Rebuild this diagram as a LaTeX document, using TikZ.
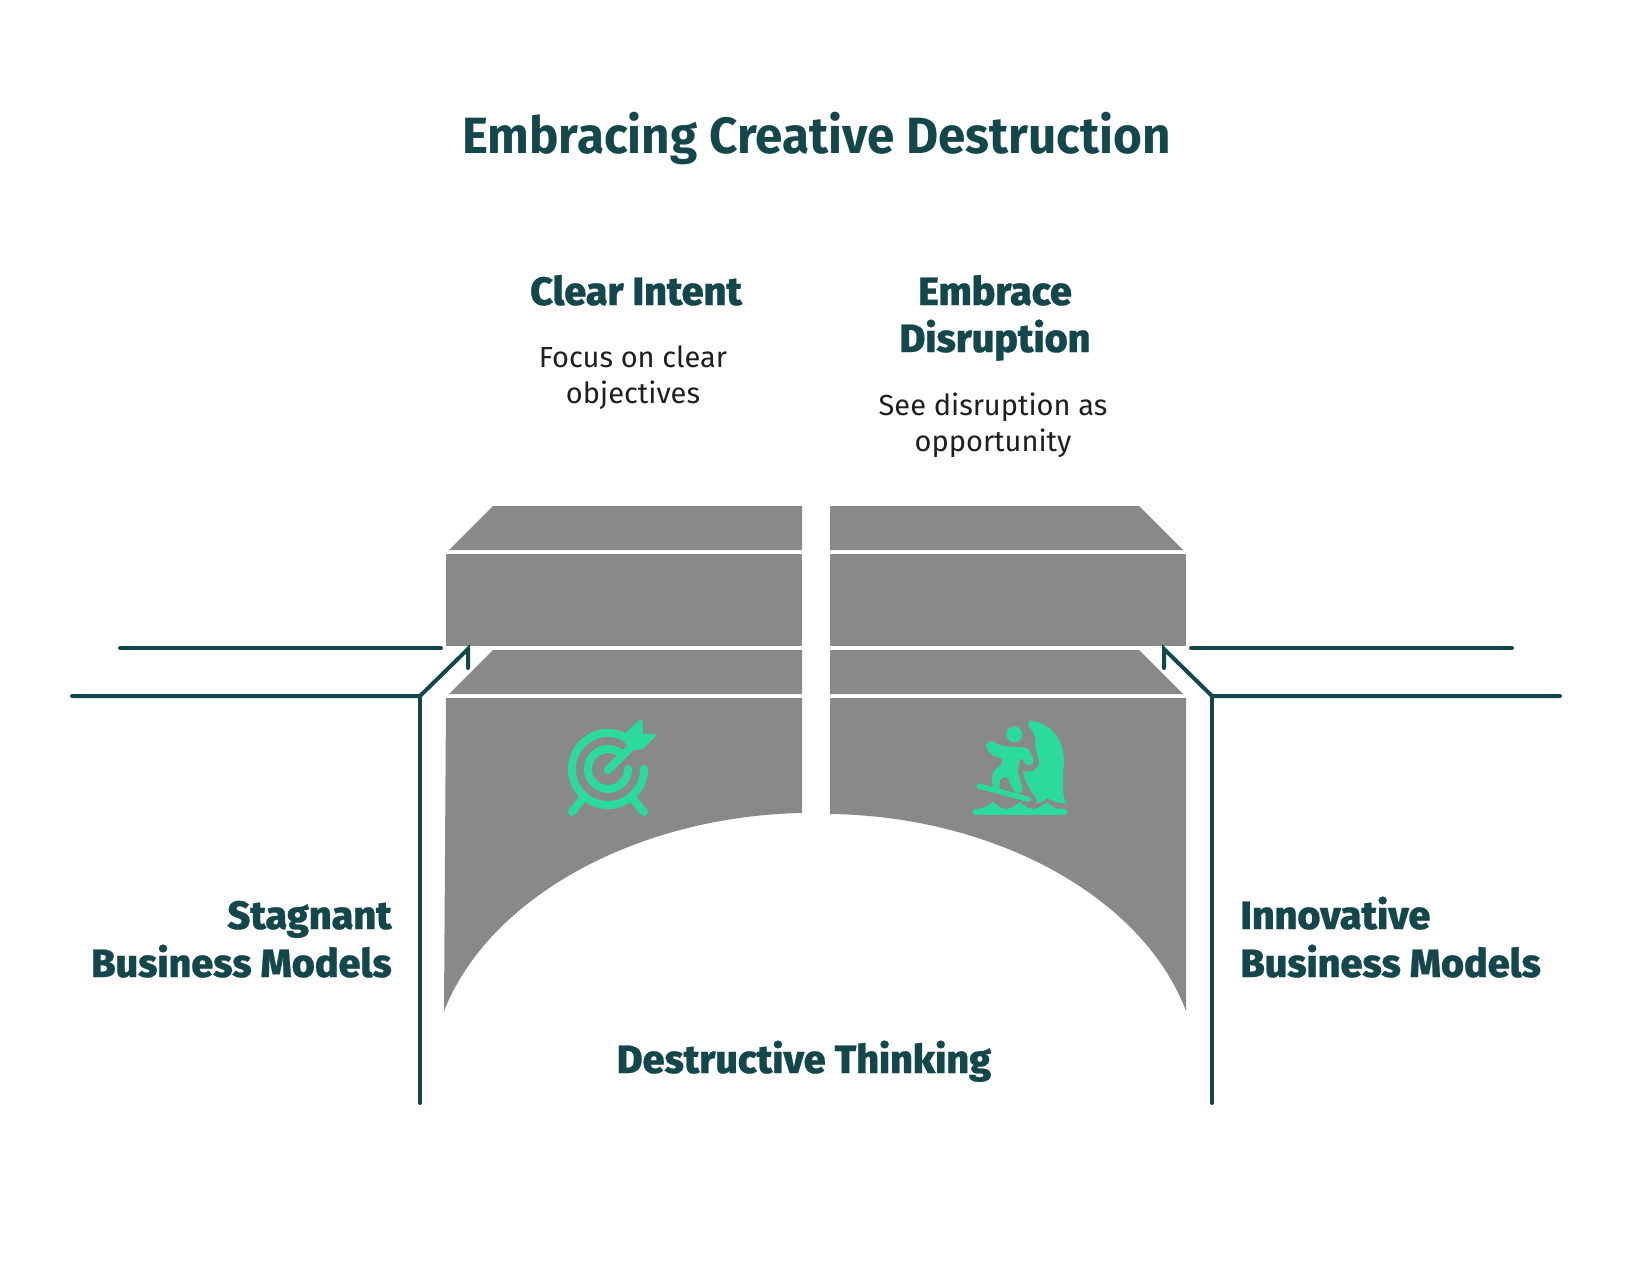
\documentclass[tikz,border=0pt]{standalone}
\usepackage{fontspec}
\setmainfont{Fira Sans}
\newfontfamily\headfont[FakeBold=0.6]{Fira Sans ExtraBold}
\newfontfamily\titlefont[FakeStretch=0.97]{Fira Sans}
\definecolor{teal}{HTML}{14474B}
\definecolor{blockgray}{HTML}{898989}
\definecolor{mint}{HTML}{2BDB9C}
\tikzset{
  x=0.02cm,y=-0.02cm,
  block/.style={fill=blockgray,draw=none},
  rail/.style={draw=teal,line width=0.08cm,line cap=round,line join=miter},
  heading/.style={text=teal,font=\headfont\fontsize{22.5}{27.2}\selectfont,align=center,inner sep=0,anchor=base},
  body/.style={text=black!88,font=\fontsize{16.5}{20.4}\selectfont,align=center,inner sep=0,anchor=base},
  iconline/.style={draw=mint,line width=0.16cm,line cap=round,line join=round,fill=none},
  iconfill/.style={fill=mint,draw=mint,line width=0.02cm,line join=round},
}
\begin{document}
\begin{tikzpicture}
\useasboundingbox (0,0) rectangle (1632,1268);
\fill[white] (0,0) rectangle (1632,1268);
\node[text=teal,font=\titlefont\bfseries\fontsize{29}{35}\selectfont,inner sep=0,anchor=base] (title) at (816.5,153.5) {Embracing Creative Destruction};
\node[heading] (clear) at (636,305) {Clear Intent};
\node[body] (cleartext1) at (633,367) {Focus on clear};
\node[body] (cleartext2) at (633,403) {objectives};
\node[heading] (embrace1) at (995,305) {Embrace};
\node[heading] (embrace2) at (995,352) {Disruption};
\node[body] (embracetext1) at (993,415) {See disruption as};
\node[body] (embracetext2) at (993,451) {opportunity};
\node[heading,anchor=base east] (stagnant1) at (392,929) {Stagnant};
\node[heading,anchor=base east] (stagnant2) at (392,977) {Business Models};
\node[heading,anchor=base west] (innovative1) at (1240,929) {Innovative};
\node[heading,anchor=base west] (innovative2) at (1240,977) {Business Models};
\node[heading] (destructive) at (804,1073) {Destructive Thinking};
% blocks
\fill[block] (493,506) -- (802,506) -- (802,550) -- (449,550) -- cycle;
\fill[block] (446,554) rectangle (802,646);
\fill[block] (493,650) -- (802,650) -- (802,694) -- (449,694) -- cycle;
\fill[block] (1139,506) -- (830,506) -- (830,550) -- (1183,550) -- cycle;
\fill[block] (1186,554) rectangle (830,646);
\fill[block] (1139,650) -- (830,650) -- (830,694) -- (1183,694) -- cycle;
\fill[block] (446,698) -- (802,698) -- (802,813) .. controls (640,816) and (490,895) .. (444,1011) -- cycle;
\fill[block] (1186,698) -- (830,698) -- (830,814) .. controls (992,816) and (1142,895) .. (1186,1011) -- cycle;
% rails
\coordinate (la) at (120,648); \coordinate (lb) at (441,648);
\coordinate (lc) at (72,696); \coordinate (ld) at (420,696);
\coordinate (le) at (468,649); \coordinate (lf) at (468,668); \coordinate (lg) at (420,1103);
\coordinate (ra) at (1512,648); \coordinate (rb) at (1191,648);
\coordinate (rc) at (1560,696); \coordinate (rd) at (1212,696);
\coordinate (re) at (1164,649); \coordinate (rf) at (1164,668); \coordinate (rg) at (1212,1103);
\draw[rail] (la) -- (lb);
\draw[rail] (lc) -- (ld) -- (le) -- (lf);
\draw[rail] (ld) -- (lg);
\draw[rail] (ra) -- (rb);
\draw[rail] (rc) -- (rd) -- (re) -- (rf);
\draw[rail] (rd) -- (rg);
% target icon
\draw[iconline] (644,769) arc[start angle=0,end angle=302,radius=36];
\draw[iconline] (628,769) arc[start angle=0,end angle=306,radius=20];
\draw[iconline] (608,770) -- (636,742);
\draw[iconline] (582,799) -- (572,812);
\draw[iconline] (632,798) -- (644,812);
\fill[iconfill] (627,732) -- (640,720) -- (642.3,722) -- (642.3,734) -- (656,735) -- (643,748.5) -- (633,749.5) -- (625,743) -- cycle;
% surfer icon
\begin{scope}[shift={(800,480)},x=0.006667cm,y=-0.006667cm]
\fill[mint] (643,763) circle[radius=24];
\fill[iconfill,rounded corners=2pt] (610,800) -- (685,805) -- (700,840) -- (695,855) -- (680,855) -- (665,830) -- (658,835) -- (652,880) -- (668,925) -- (660,940) -- (645,938) -- (620,885) -- (595,900) -- (600,925) -- (585,925) -- (578,915) -- (578,880) -- (590,865) -- (605,860) -- (610,833) -- (580,828) -- (560,805) -- (560,790) -- (575,783) -- (597,797) -- cycle;
\draw[mint,line width=0.106cm,line cap=round] (537,918) -- (685,958);
\fill[iconfill] (690,725) .. controls (740,725) and (790,770) .. (790,840) .. controls (790,880) and (780,940) .. (797,968) .. controls (770,968) and (755,960) .. (740,952) .. controls (730,960) and (720,968) .. (712,968) .. controls (712,945) and (695,940) .. (690,925) .. controls (680,905) and (672,890) .. (670,875) .. controls (695,880) and (718,870) .. (718,845) .. controls (718,825) and (705,810) .. (707,795) .. controls (712,770) and (695,745) .. (685,735) -- cycle;
\fill[iconfill] (525,988) .. controls (550,988) and (565,978) .. (580,968) .. controls (595,982) and (605,988) .. (620,988) .. controls (635,988) and (648,978) .. (660,968) .. controls (675,982) and (685,988) .. (700,988) .. controls (715,988) and (728,978) .. (740,968) .. controls (755,982) and (765,988) .. (780,988) -- (793,988) .. controls (802,988) and (802,1003) .. (793,1003) -- (527,1003) .. controls (518,1003) and (518,988) .. (525,988) -- cycle;
\end{scope}
\end{tikzpicture}
\end{document}
